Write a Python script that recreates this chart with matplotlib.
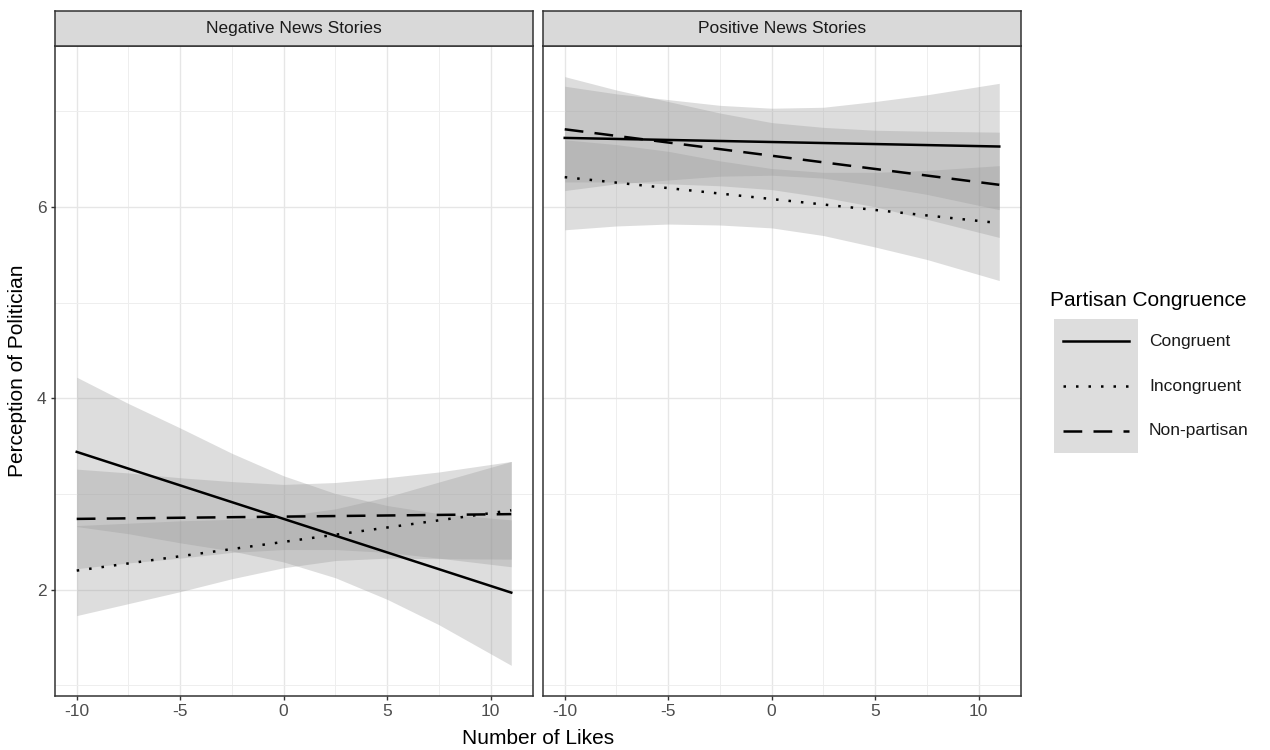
import matplotlib
matplotlib.use("Agg")
import matplotlib.pyplot as plt
from matplotlib.patches import Rectangle

plt.rcParams['font.family'] = ['Liberation Sans', 'DejaVu Sans']

# facet titles and groups
panel_titles = ["Negative News Stories", "Positive News Stories"]
group_names = ["Congruent", "Incongruent", "Non-partisan"]

# fitted lines (value at the ends of the Likes range)
line_x = [-10, 11]
neg_congruent_fit = [3.44, 1.97]
neg_incongruent_fit = [2.20, 2.83]
neg_nonpartisan_fit = [2.74, 2.79]
pos_congruent_fit = [6.72, 6.63]
pos_incongruent_fit = [6.31, 5.83]
pos_nonpartisan_fit = [6.81, 6.23]

# confidence bands
band_x = [-10, -7.5, -5, -2.5, 0, 2.5, 5, 7.5, 11]
neg_congruent_lo = [2.66, 2.585, 2.49, 2.405, 2.29, 2.125, 1.90, 1.635, 1.21]
neg_congruent_hi = [4.22, 3.945, 3.69, 3.425, 3.19, 3.005, 2.88, 2.795, 2.73]
neg_incongruent_lo = [1.73, 1.855, 1.98, 2.115, 2.23, 2.305, 2.33, 2.325, 2.32]
neg_incongruent_hi = [2.67, 2.695, 2.72, 2.735, 2.77, 2.845, 2.97, 3.125, 3.34]
neg_nonpartisan_lo = [2.22, 2.28, 2.33, 2.39, 2.42, 2.42, 2.39, 2.33, 2.24]
neg_nonpartisan_hi = [3.26, 3.22, 3.17, 3.13, 3.10, 3.12, 3.17, 3.23, 3.34]
pos_congruent_lo = [6.17, 6.24, 6.28, 6.32, 6.33, 6.30, 6.22, 6.13, 5.97]
pos_congruent_hi = [7.26, 7.18, 7.12, 7.06, 7.03, 7.04, 7.10, 7.17, 7.29]
pos_incongruent_lo = [5.76, 5.80, 5.82, 5.81, 5.78, 5.70, 5.58, 5.45, 5.23]
pos_incongruent_hi = [6.70, 6.65, 6.58, 6.48, 6.40, 6.36, 6.36, 6.38, 6.43]
pos_nonpartisan_lo = [6.26, 6.26, 6.24, 6.22, 6.18, 6.10, 6.00, 5.87, 5.68]
pos_nonpartisan_hi = [7.36, 7.22, 7.10, 6.98, 6.88, 6.83, 6.80, 6.79, 6.78]

x_ticks = [-10, -5, 0, 5, 10]
x_tick_labels = ["-10", "-5", "0", "5", "10"]
x_minor = [-7.5, -2.5, 2.5, 7.5]
y_ticks = [2, 4, 6]
y_minor = [1, 3, 5, 7]

W, H = 1270, 750
LW = 1.8
styles = {
    "Congruent": dict(linestyle="-"),
    "Incongruent": dict(linestyle=(0, (1, 4))),
    "Non-partisan": dict(linestyle=(0, (7.5, 4.5))),
}
RIBBON = dict(color="#999999", alpha=0.33, linewidth=0)
BORDER = "#333333"

panel_data = [
    [(neg_congruent_fit, neg_congruent_lo, neg_congruent_hi),
     (neg_incongruent_fit, neg_incongruent_lo, neg_incongruent_hi),
     (neg_nonpartisan_fit, neg_nonpartisan_lo, neg_nonpartisan_hi)],
    [(pos_congruent_fit, pos_congruent_lo, pos_congruent_hi),
     (pos_incongruent_fit, pos_incongruent_lo, pos_incongruent_hi),
     (pos_nonpartisan_fit, pos_nonpartisan_lo, pos_nonpartisan_hi)],
]

fig = plt.figure(figsize=(12.7, 7.5), dpi=100)
panel_left = [55, 543]
panel_w = 478
top, bottom = 46, 696

for i, title in enumerate(panel_titles):
    ax = fig.add_axes([panel_left[i] / W, 1 - bottom / H, panel_w / W, (bottom - top) / H])
    for name, (fit, lo, hi) in zip(group_names, panel_data[i]):
        ax.fill_between(band_x, lo, hi, **RIBBON, zorder=2)
    for name, (fit, lo, hi) in zip(group_names, panel_data[i]):
        ax.plot(line_x, fit, color="black", linewidth=LW,
                dash_capstyle="butt", zorder=3, **styles[name])
    ax.set_xlim(-11.05, 12.05)
    ax.set_ylim(0.89, 7.68)
    ax.set_xticks(x_ticks)
    ax.set_xticklabels(x_tick_labels)
    ax.set_xticks(x_minor, minor=True)
    ax.set_yticks(y_ticks)
    ax.set_yticks(y_minor, minor=True)
    ax.grid(which="major", color="#e6e6e6", linewidth=1.0, zorder=0)
    ax.grid(which="minor", color="#eeeeee", linewidth=0.7, zorder=0)
    ax.set_axisbelow(True)
    ax.tick_params(which="major", length=3, width=1, color=BORDER,
                   labelcolor="#4d4d4d", labelsize=12.5, pad=3)
    ax.tick_params(which="minor", length=0)
    for sp in ax.spines.values():
        sp.set_color(BORDER)
        sp.set_linewidth(1.1)
    if i == 1:
        ax.tick_params(axis="y", which="both", left=False, labelleft=False)

    strip = fig.add_axes([panel_left[i] / W, 1 - top / H, panel_w / W, 35 / H])
    strip.set_facecolor("#d9d9d9")
    strip.set_xticks([])
    strip.set_yticks([])
    for sp in strip.spines.values():
        sp.set_color(BORDER)
        sp.set_linewidth(1.1)
    strip.text(0.5, 0.5, title, ha="center", va="center", fontsize=12.5,
               color="#1a1a1a", transform=strip.transAxes)

fig.text(538 / W, 1 - 738 / H, "Number of Likes", ha="center", va="center",
         fontsize=15)
fig.text(18 / W, 1 - 371 / H, "Perception of Politician", ha="center",
         va="center", rotation=90, fontsize=15)

# legend drawn in pixel space
leg = fig.add_axes([0, 0, 1, 1], facecolor="none")
leg.set_xlim(0, W)
leg.set_ylim(H, 0)
leg.axis("off")
leg.text(1050, 300, "Partisan Congruence", ha="left", va="center", fontsize=15)
key_top, key_h = 319, 44.7
for k, name in enumerate(group_names):
    y0 = key_top + k * key_h
    leg.add_patch(Rectangle((1054, y0), 84, key_h, facecolor="#999999",
                            alpha=0.33, linewidth=0))
    yc = y0 + key_h / 2
    leg.plot([1063, 1129], [yc, yc], color="black", linewidth=LW,
             dash_capstyle="butt", **styles[name])
    leg.text(1149, yc, name, ha="left", va="center", fontsize=12.5,
             color="#1a1a1a")

fig.savefig("out.png", dpi=100)
